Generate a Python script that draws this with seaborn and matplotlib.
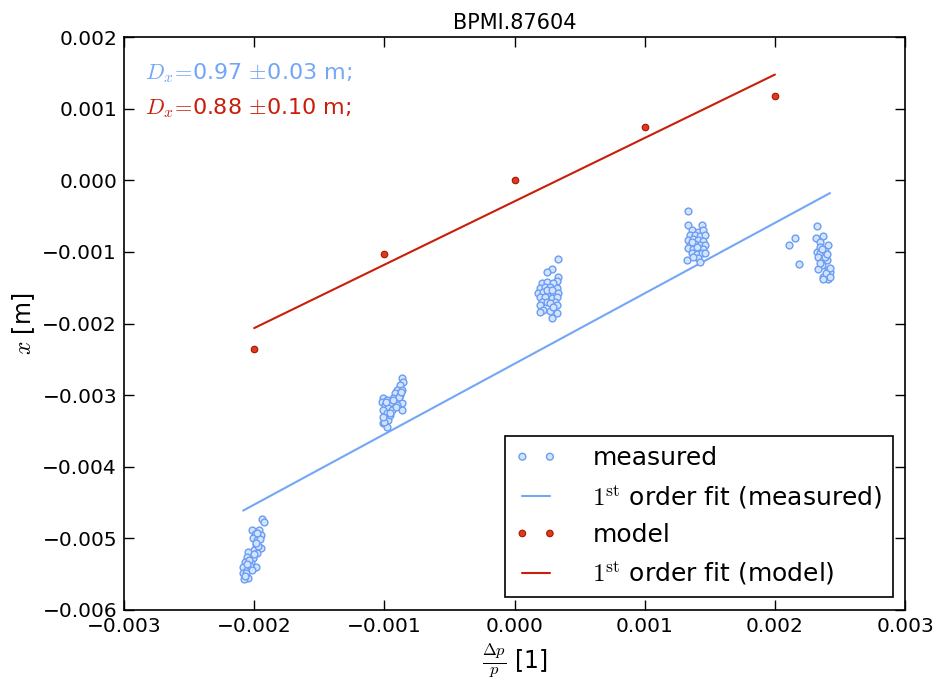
import matplotlib
matplotlib.use("Agg")
import matplotlib.pyplot as plt
import numpy as np
import pandas as pd
import seaborn as sns

# model optics: dp/p [1e-3] and orbit x [mm]
model_dp = [-2.0, -1.0, 0.0, 1.0, 2.0]
model_x = [-2.36, -1.03, 0.00, 0.74, 1.18]

# measured orbit, one list per dp/p step (dp/p in 1e-3, x in mm)
meas_dp_1 = [-1.939, -1.924, -2.016, -1.962, -1.993, -1.947, -2.008, -1.978,
             -1.985, -1.947, -2.001, -2.047, -1.978, -2.055, -2.008, -2.070,
             -2.024, -1.985, -2.085, -2.055, -2.085, -2.062, -2.047, -2.078,
             -1.970, -1.955, -2.040, -2.030, -2.065, -2.000, -1.990, -2.070,
             -2.015, -1.975, -2.055]
meas_x_1 = [-4.732, -4.774, -4.885, -4.885, -4.941, -4.955, -4.997, -5.025,
            -5.095, -5.137, -5.165, -5.193, -5.207, -5.263, -5.277, -5.332,
            -5.346, -5.402, -5.402, -5.444, -5.486, -5.542, -5.556, -5.570,
            -5.100, -5.010, -5.300, -5.380, -5.490, -5.220, -5.060, -5.520,
            -5.440, -4.920, -5.360]

meas_dp_2 = [-0.864, -0.856, -0.879, -0.902, -0.864, -0.918, -0.879, -0.933,
             -0.895, -0.864, -0.902, -0.864, -1.010, -1.018, -0.979, -0.995,
             -0.956, -0.972, -1.010, -0.941, -0.979, -0.995, -0.972, -1.010,
             -0.979, -0.956, -0.890, -0.870, -0.910, -0.990, -1.000, -0.960,
             -0.930, -1.010]
meas_x_2 = [-2.763, -2.818, -2.860, -2.930, -2.930, -2.972, -3.000, -3.042,
            -3.070, -3.112, -3.140, -3.209, -3.042, -3.098, -3.070, -3.140,
            -3.112, -3.182, -3.209, -3.209, -3.251, -3.321, -3.349, -3.391,
            -3.447, -3.279, -3.020, -2.950, -3.160, -3.100, -3.370, -3.250,
            -3.070, -3.300]

meas_dp_3 = [0.337, 0.286, 0.247, 0.337, 0.324, 0.209, 0.247, 0.298,
             0.196, 0.234, 0.273, 0.324, 0.183, 0.221, 0.260, 0.298,
             0.337, 0.196, 0.234, 0.286, 0.324, 0.209, 0.247, 0.311,
             0.196, 0.273, 0.324, 0.221, 0.196, 0.273, 0.324, 0.286,
             0.298, 0.247, 0.286]
meas_x_3 = [-1.105, -1.240, -1.287, -1.347, -1.403, -1.440, -1.426, -1.440,
            -1.510, -1.496, -1.487, -1.510, -1.580, -1.566, -1.580, -1.571,
            -1.580, -1.636, -1.627, -1.650, -1.627, -1.697, -1.697, -1.697,
            -1.743, -1.720, -1.743, -1.813, -1.837, -1.827, -1.850, -1.929,
            -1.767, -1.534, -1.534]

meas_dp_4 = [1.335, 1.335, 1.438, 1.361, 1.412, 1.450, 1.348, 1.386,
             1.425, 1.463, 1.335, 1.373, 1.412, 1.450, 1.348, 1.386,
             1.425, 1.463, 1.335, 1.373, 1.412, 1.450, 1.361, 1.399,
             1.438, 1.463, 1.322, 1.412, 1.425, 1.373, 1.399, 1.361]
meas_x_4 = [-0.430, -0.626, -0.626, -0.696, -0.719, -0.696, -0.765, -0.765,
            -0.779, -0.765, -0.835, -0.826, -0.835, -0.845, -0.905, -0.891,
            -0.905, -0.905, -0.951, -0.965, -0.975, -0.965, -1.021, -1.031,
            -1.021, -1.012, -1.115, -1.091, -1.138, -1.068, -0.929, -0.859]

meas_dp_5 = [2.326, 2.154, 2.108, 2.185, 2.316, 2.367, 2.346, 2.410,
             2.321, 2.346, 2.385, 2.333, 2.372, 2.403, 2.359, 2.410,
             2.333, 2.423, 2.372, 2.410, 2.367, 2.385, 2.346, 2.390,
             2.420, 2.350, 2.400, 2.360, 2.420]
meas_x_5 = [-0.635, -0.803, -0.905, -1.175, -0.803, -0.775, -0.859, -0.905,
            -0.998, -1.012, -0.985, -1.068, -1.115, -1.115, -1.184, -1.254,
            -1.245, -1.287, -1.347, -1.380, -1.384, -1.068, -0.938, -1.300,
            -1.220, -1.160, -1.030, -0.960, -1.350]

D_meas = (0.97, 0.03)
D_model = (0.88, 0.10)

meas_blue = "#74a6f6"
model_red = "#c81e0a"

sns.set_style("ticks", {"xtick.direction": "in", "ytick.direction": "in",
                        "axes.edgecolor": "black"})
plt.rcParams["font.family"] = ["DejaVu Sans"]
plt.rcParams["mathtext.fontset"] = "cm"
for key in ["text.color", "axes.labelcolor", "xtick.color", "ytick.color"]:
    plt.rcParams[key] = "black"

meas = pd.DataFrame({
    "dp": np.concatenate([meas_dp_1, meas_dp_2, meas_dp_3, meas_dp_4, meas_dp_5]) * 1e-3,
    "x": np.concatenate([meas_x_1, meas_x_2, meas_x_3, meas_x_4, meas_x_5]) * 1e-3,
})
model = pd.DataFrame({"dp": np.array(model_dp) * 1e-3, "x": np.array(model_x) * 1e-3})

fig, ax = plt.subplots(figsize=(9.36, 6.82), dpi=100)
fig.subplots_adjust(left=0.1325, right=0.967, bottom=0.1056, top=0.9457)

# measured points + linear fit
sns.scatterplot(data=meas, x="dp", y="x", ax=ax, s=24, color="#d4e4ff",
                edgecolor="#6b9df2", linewidth=1.0, label="measured", zorder=3)
sns.regplot(data=meas, x="dp", y="x", ax=ax, scatter=False, ci=None, truncate=True,
            line_kws=dict(color=meas_blue, lw=1.5))
ax.lines[-1].set_label(r"$1^{\rm st}$ order fit (measured)")

# model points + linear fit
sns.scatterplot(data=model, x="dp", y="x", ax=ax, s=22, color="#dd3a22",
                edgecolor="#a81400", linewidth=0.8, label="model", zorder=3)
sns.regplot(data=model, x="dp", y="x", ax=ax, scatter=False, ci=None, truncate=True,
            line_kws=dict(color=model_red, lw=1.5))
ax.lines[-1].set_label(r"$1^{\rm st}$ order fit (model)")

ax.set_xlim(-0.003, 0.003)
ax.set_ylim(-0.006, 0.002)
ax.set_xticks(np.arange(-0.003, 0.0031, 0.001))
ax.set_yticks(np.arange(-0.006, 0.0021, 0.001))
ax.ticklabel_format(useOffset=False, style="plain")
ax.tick_params(direction="in", length=7, width=1, top=True, right=True,
               labelsize=14.5, pad=5, colors="black")
for sp in ax.spines.values():
    sp.set_visible(True)
    sp.set_linewidth(1.2)
    sp.set_color("black")

ax.set_title("BPMI.87604", fontsize=15)
ax.set_xlabel(r"$\frac{\Delta p}{p}$ [1]", fontsize=17)
ax.set_ylabel(r"$x$ [m]", fontsize=17)

ax.text(0.027, 0.937, r"$D_x\!=\!$%.2f$\,\pm\!$%.2f m;" % D_meas, transform=ax.transAxes,
        color=meas_blue, fontsize=16, va="center", ha="left")
ax.text(0.027, 0.876, r"$D_x\!=\!$%.2f$\,\pm\!$%.2f m;" % D_model, transform=ax.transAxes,
        color=model_red, fontsize=16, va="center", ha="left")

order = ["measured", r"$1^{\rm st}$ order fit (measured)", "model",
         r"$1^{\rm st}$ order fit (model)"]
handles, labels = ax.get_legend_handles_labels()
lookup = dict(zip(labels, handles))
leg = ax.legend([lookup[k] for k in order], order, loc="lower right",
                scatterpoints=2, scatteryoffsets=[0.5], numpoints=2,
                fancybox=False, framealpha=1, edgecolor="black", fontsize=18,
                handlelength=1.7, handletextpad=1.4, borderpad=0.4,
                labelspacing=0.5, borderaxespad=0.5)
leg.get_frame().set_linewidth(1.2)

fig.savefig("out.png", dpi=100)
